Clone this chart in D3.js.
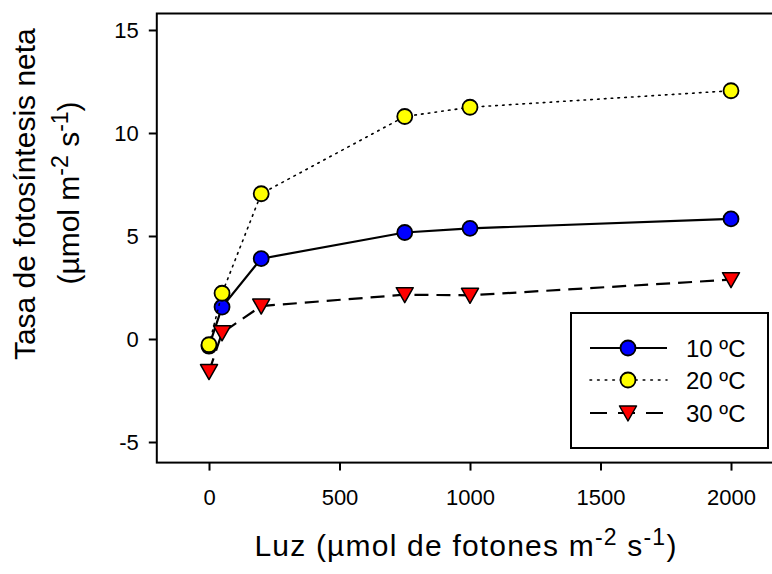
<!DOCTYPE html>
<html>
<head>
<meta charset="utf-8">
<script src="https://cdn.jsdelivr.net/npm/d3@7/dist/d3.min.js"></script>
<style>
  html, body { margin: 0; padding: 0; background: #fff; }
  svg { display: block; font-family: Arial, "Liberation Sans", sans-serif; }
</style>
</head>
<body>
<svg id="chart" width="772" height="574"></svg>
<script>
// ---- data ----
const light = [0, 50, 200, 750, 1000, 2000];
const t10 = [-0.35, 1.55, 3.9, 5.17, 5.37, 5.83];
const t20 = [-0.28, 2.22, 7.05, 10.8, 11.25, 12.05];
const t30 = [-1.58, 0.3, 1.6, 2.15, 2.12, 2.88];
const seriesNames = ["10 ºC", "20 ºC", "30 ºC"];
const xTicks = [0, 500, 1000, 1500, 2000];
const yTicks = [-5, 0, 5, 10, 15];

const svg = d3.select("#chart");
const x = d3.scaleLinear().domain([-200, 2200]).range([156.8, 783.2]);
const y = d3.scaleLinear().domain([-6, 15.8]).range([462.6, 13.5]);

// frame
svg.append("rect")
  .attr("x", x(-200)).attr("y", y(15.8))
  .attr("width", x(2200) - x(-200)).attr("height", y(-6) - y(15.8))
  .attr("fill", "none").attr("stroke", "#000").attr("stroke-width", 2);

const fmt = d => String(d);
// axes
const xAxis = d3.axisBottom(x).tickValues(xTicks).tickSize(8).tickSizeOuter(0).tickPadding(19).tickFormat(fmt);
const gx = svg.append("g").attr("transform", `translate(0,${y(-6)})`).call(xAxis);
gx.select(".domain").remove();
gx.selectAll(".tick line").attr("stroke-width", 2);
gx.selectAll(".tick text").attr("font-size", 22).attr("fill", "#000").attr("font-family", "Arial, 'Liberation Sans', sans-serif");

const yAxis = d3.axisLeft(y).tickValues(yTicks).tickSize(8).tickSizeOuter(0).tickPadding(10).tickFormat(fmt);
const gy = svg.append("g").attr("transform", `translate(${x(-200)},0)`).call(yAxis);
gy.select(".domain").remove();
gy.selectAll(".tick line").attr("stroke-width", 2);
gy.selectAll(".tick text").attr("font-size", 22).attr("fill", "#000").attr("font-family", "Arial, 'Liberation Sans', sans-serif");

// series
const styles = [
  { data: t10, dash: null, width: 2.2, fill: "#0000ff", shape: "circle" },
  { data: t20, dash: "1.6,5.2", width: 1.6, fill: "#ffff00", shape: "circle" },
  { data: t30, dash: "14,8", width: 2.2, fill: "#ff0000", shape: "tri" }
];
const line = d3.line().x(d => x(d[0])).y(d => y(d[1]));
const triPath = "M-8.5,-7 L8.5,-7 L0,8 Z";

function drawMarker(g, shape, fill, cx, cy) {
  if (shape === "circle") {
    g.append("circle").attr("cx", cx).attr("cy", cy).attr("r", 7.5)
      .attr("fill", fill).attr("stroke", "#000").attr("stroke-width", 1.8);
  } else {
    g.append("path").attr("d", triPath).attr("transform", `translate(${cx},${cy})`)
      .attr("fill", fill).attr("stroke", "#000").attr("stroke-width", 1.5)
      .attr("stroke-linejoin", "round");
  }
}

styles.forEach((s, si) => {
  const pts = light.map((l, i) => [l, s.data[i]]);
  const g = svg.append("g");
  g.append("path").attr("d", line(pts)).attr("fill", "none")
    .attr("stroke", "#000").attr("stroke-width", s.width)
    .attr("stroke-dasharray", s.dash).attr("stroke-linecap", si === 1 ? "round" : "butt");
  pts.forEach(p => drawMarker(g, s.shape, s.fill, x(p[0]), y(p[1])));
});

// legend
const lg = svg.append("g");
lg.append("rect").attr("x", 571).attr("y", 313).attr("width", 197).attr("height", 135)
  .attr("fill", "#fff").attr("stroke", "#000").attr("stroke-width", 2);
const rowsY = [348, 380, 413];
styles.forEach((s, i) => {
  const ry = rowsY[i];
  lg.append("line").attr("x1", 590).attr("x2", 667).attr("y1", ry).attr("y2", ry)
    .attr("stroke", "#000").attr("stroke-width", s.width)
    .attr("stroke-dasharray", s.dash ? (i === 1 ? "1.6,6" : "17,11") : null)
    .attr("stroke-linecap", i === 1 ? "round" : "butt");
  drawMarker(lg, s.shape, s.fill, 628, ry);
  lg.append("text").attr("x", 686).attr("y", ry + 8.5).attr("font-size", 24)
    .attr("fill", "#000").text(seriesNames[i]);
});

// helper: text with superscripts, centered by measuring
function supText(parent, parts, fs, sfs) {
  const t = parent.append("text").attr("font-size", fs).attr("fill", "#000");
  parts.forEach(p => {
    const ts = t.append("tspan").text(p[0]);
    if (p[1] === "up") ts.attr("font-size", sfs).attr("dy", -fs * 0.36);
    if (p[1] === "down") ts.attr("dy", fs * 0.36);
  });
  const w = t.node().getBBox().width;
  t.attr("x", -w / 2);
  return t;
}

// x title
const xtG = svg.append("g").attr("transform", "translate(466,556)");
const xt = supText(xtG, [["Luz (µmol de fotones m"], ["-2", "up"], [" s", "down"], ["-1", "up"], [")", "down"]], 30, 23);
xt.attr("letter-spacing", 1.2);
xt.attr("x", -xt.node().getBBox().width / 2);

// y title
const ytG = svg.append("g").attr("transform", "translate(35,194) rotate(-90)");
const y1t = supText(ytG, [["Tasa de fotosíntesis neta"]], 30, 23);
const ytG2 = svg.append("g").attr("transform", "translate(79,193) rotate(-90)");
supText(ytG2, [["(µmol m"], ["-2", "up"], [" s", "down"], ["-1", "up"], [")", "down"]], 30, 23);
</script>
</body>
</html>
